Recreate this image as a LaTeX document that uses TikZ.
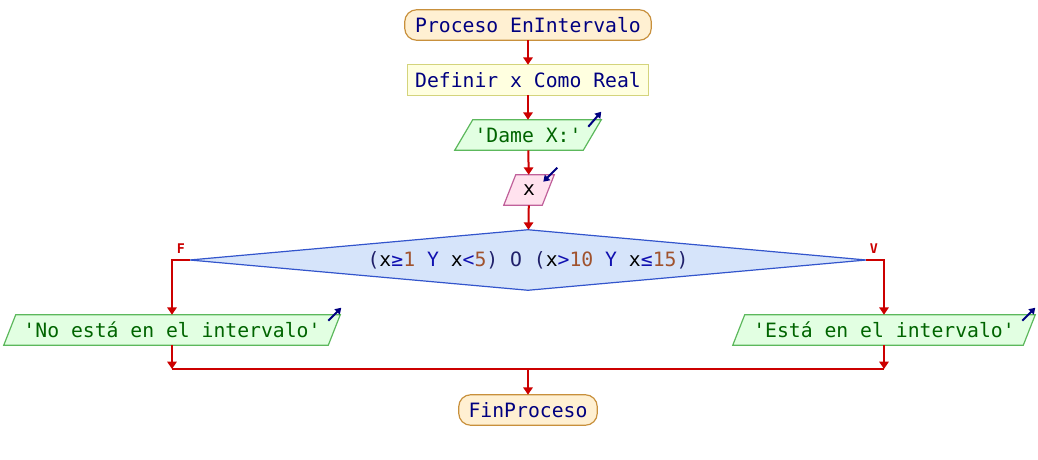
\documentclass[tikz,border=0pt]{standalone}
\usepackage{fontspec}
\newfontfamily\flowfont{DejaVu Sans Mono}
\usetikzlibrary{arrows.meta,backgrounds,calc}
\definecolor{flowred}{HTML}{CC0000}
\definecolor{txtnavy}{HTML}{000080}
\definecolor{txtgreen}{HTML}{006400}
\definecolor{numbrown}{HTML}{A0522D}
\definecolor{opblue}{HTML}{1010B0}
\definecolor{parnavy}{HTML}{20206A}
\definecolor{termfill}{HTML}{FFF0D2}
\definecolor{termdraw}{HTML}{C8903C}
\definecolor{deffill}{HTML}{FFFFE0}
\definecolor{defdraw}{HTML}{D4D47C}
\definecolor{outfill}{HTML}{E2FFE2}
\definecolor{outdraw}{HTML}{5CB85C}
\definecolor{infill}{HTML}{FFE2EE}
\definecolor{indraw}{HTML}{C0609A}
\definecolor{condfill}{HTML}{D6E4FA}
\definecolor{conddraw}{HTML}{3355CC}
\newcommand{\nm}[1]{\textcolor{numbrown}{#1}}
\newcommand{\op}[1]{\textcolor{opblue}{#1}}
\newcommand{\pr}[1]{\textcolor{parnavy}{#1}}
\begin{document}
\begin{tikzpicture}[x=0.75pt,y=-0.75pt,
  every node/.style={font=\flowfont\fontsize{14.8}{18}\selectfont, inner sep=0pt},
  box/.style={rectangle, minimum height=22.5pt},
  flow/.style={draw=flowred, line width=1.5pt, -{Triangle[width=7pt,length=5.5pt]}},
  plain/.style={draw=flowred, line width=1.5pt},
  icon/.style={draw=txtnavy, line width=1.5pt, -{Triangle[width=5.5pt,length=4.5pt]}},
  lbl/.style={text=flowred, font=\flowfont\bfseries\fontsize{10}{12}\selectfont},
  termshape/.style={fill=termfill, draw=termdraw, line width=0.9pt, rounded corners=9pt},
  defshape/.style={fill=deffill, draw=defdraw, line width=0.9pt},
  outshape/.style={fill=outfill, draw=outdraw, line width=0.9pt},
  inshape/.style={fill=infill, draw=indraw, line width=0.9pt},
  condshape/.style={fill=condfill, draw=conddraw, line width=0.9pt}]
\useasboundingbox (0,0) rectangle (1038,460);

\node[box, minimum width=184.5pt, text=txtnavy] (start) at (528,25) {Proceso EnIntervalo};
\node[box, minimum width=180pt, text=txtnavy] (def) at (528,80) {Definir x Como Real};
\node[box, minimum width=96pt, text=txtgreen] (dame) at (528,135) {'Dame X:'};
\node[box, minimum width=28.5pt, text=black] (inx) at (529,190) {x};
\node[rectangle, minimum width=507pt, minimum height=45pt] (cond) at (528,260)
  {\pr{(}x\op{≥}\nm{1} \op{Y} x\op{<}\nm{5}\pr{)} \pr{O} \pr{(}x\op{>}\nm{10} \op{Y} x\op{≤}\nm{15}\pr{)}};
\node[box, minimum width=243pt, text=txtgreen] (no) at (172,330) {'No está en el intervalo'};
\node[box, minimum width=217.5pt, text=txtgreen] (si) at (884,330) {'Está en el intervalo'};
\node[box, minimum width=103.5pt, text=txtnavy] (fin) at (528,410) {FinProceso};
\node[lbl] (lf) at (181,249) {F};
\node[lbl] (lv) at (874,249) {V};

\begin{scope}[on background layer]
  \path[termshape] (start.north west) rectangle (start.south east);
  \path[termshape] (fin.north west) rectangle (fin.south east);
  \path[defshape] (def.north west) rectangle (def.south east);
  \path[outshape] ($(dame.north west)+(9,0)$) -- ($(dame.north east)+(9,0)$)
     -- ($(dame.south east)+(-9,0)$) -- ($(dame.south west)+(-9,0)$) -- cycle;
  \path[inshape] ($(inx.north west)+(6,0)$) -- ($(inx.north east)+(6,0)$)
     -- ($(inx.south east)+(-6,0)$) -- ($(inx.south west)+(-6,0)$) -- cycle;
  \path[outshape] ($(no.north west)+(6,0)$) -- ($(no.north east)+(6,0)$)
     -- ($(no.south east)+(-6,0)$) -- ($(no.south west)+(-6,0)$) -- cycle;
  \path[outshape] ($(si.north west)+(6,0)$) -- ($(si.north east)+(6,0)$)
     -- ($(si.south east)+(-6,0)$) -- ($(si.south west)+(-6,0)$) -- cycle;
  \path[condshape] (cond.north) -- (cond.east) -- (cond.south) -- (cond.west) -- cycle;
\end{scope}

% connectors
\draw[flow] (start) -- (def);
\draw[flow] (def) -- (dame);
\draw[flow] (dame) -- (inx);
\draw[flow] (inx) -- (cond);
\draw[flow] (cond.west) -| (no.north);
\draw[flow] (cond.east) -| (si.north);
\coordinate (jl) at (172,369);
\coordinate (jr) at (884,369);
\coordinate (jm) at (528,369);
\draw[flow] (no.south) -- (jl);
\draw[flow] (si.south) -- (jr);
\draw[plain] (jl) -- (jr);
\draw[flow] (jm) -- (fin);

% io icons
\draw[icon] ($(dame.north east)+(-4,7)$) -- ($(dame.north east)+(9,-8)$);
\draw[icon] ($(inx.north east)+(9,-7)$) -- ($(inx.north east)+(-5,7)$);
\draw[icon] ($(no.north east)+(-6,6)$) -- ($(no.north east)+(7,-7)$);
\draw[icon] ($(si.north east)+(-7,6)$) -- ($(si.north east)+(6,-7)$);
\end{tikzpicture}
\end{document}
